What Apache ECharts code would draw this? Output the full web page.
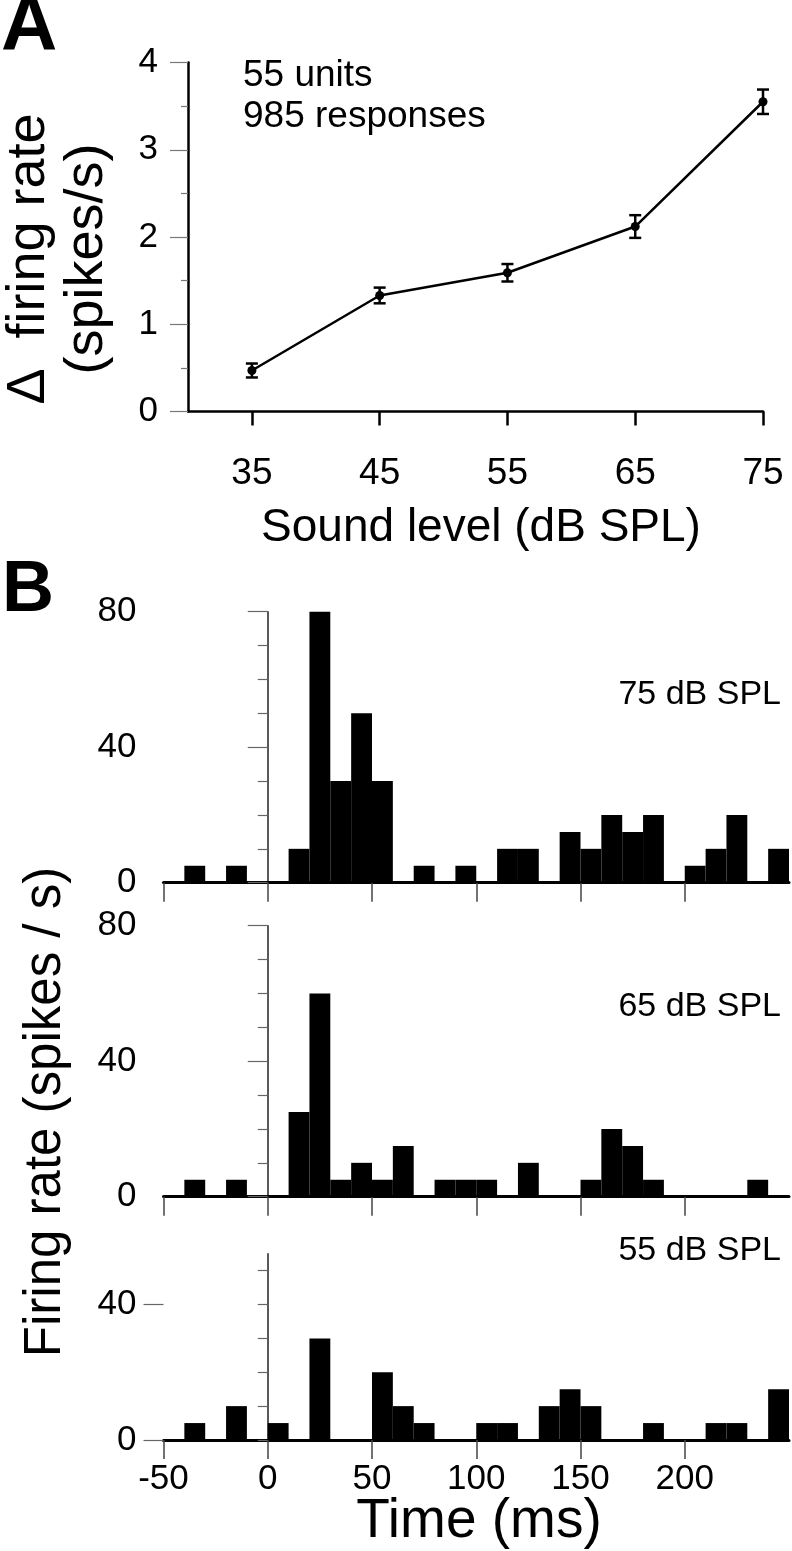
<!DOCTYPE html>
<html>
<head>
<meta charset="utf-8">
<script src="https://cdn.jsdelivr.net/npm/echarts@6/dist/echarts.min.js"></script>
<style>
html,body{margin:0;padding:0;background:#fff;}
#c{width:792px;height:1551px;}
</style>
</head>
<body>
<div id="c"></div>
<script>
// ---------- Panel A data ----------
const levels = [35, 45, 55, 65, 75];
const meanRate = [0.47, 1.33, 1.59, 2.12, 3.55];
const semRate = [0.08, 0.09, 0.10, 0.13, 0.14];
const levelTicks = [35, 45, 55, 65, 75];

// ---------- Panel B data (10 ms bins) ----------
const binWidth = 10;
const binStarts = [-50,-40,-30,-20,-10,0,10,20,30,40,50,60,70,80,90,100,110,120,130,140,150,160,170,180,190,200,210,220,230,240];
const rate75 = [0,5,0,5,0,0,10,80,30,50,30,0,5,0,5,0,10,10,0,15,10,20,15,20,0,5,10,20,0,10];
const rate65 = [0,5,0,5,0,0,25,60,5,10,5,15,0,5,5,5,0,10,0,0,5,20,15,5,0,0,0,0,5,0];
const rate55 = [0,5,0,10,0,5,0,30,0,0,20,10,5,0,0,5,5,0,10,15,10,0,0,5,0,0,5,5,0,15];
const timeTicks = [-50, 0, 50, 100, 150, 200];
const panelLabels = ['75 dB SPL', '65 dB SPL', '55 dB SPL'];

const FF = '"Liberation Sans", Arial, Helvetica, sans-serif';
const chart = echarts.init(document.getElementById('c'), null, {renderer: 'canvas'});

const errData = levels.map((l, i) => [l, meanRate[i] - semRate[i], meanRate[i] + semRate[i]]);
const lineData = levels.map((l, i) => [l, meanRate[i]]);
const histData = arr => binStarts.map((s, i) => [s, arr[i]]);

function histRender(params, api) {
  const s = api.value(0), v = api.value(1);
  if (!v) return null;
  const p0 = api.coord([s, v]);
  const p1 = api.coord([s + binWidth, 0]);
  return {type: 'rect', shape: {x: p0[0], y: p0[1], width: p1[0] - p0[0], height: p1[1] - p0[1]}, style: {fill: '#000'}};
}
function errRender(params, api) {
  const x = api.value(0);
  const lo = api.coord([x, api.value(1)]);
  const hi = api.coord([x, api.value(2)]);
  const w = 6;
  const st = {stroke: '#000', lineWidth: 2.5};
  return {type: 'group', children: [
    {type: 'line', shape: {x1: lo[0], y1: lo[1], x2: hi[0], y2: hi[1]}, style: st},
    {type: 'line', shape: {x1: lo[0] - w, y1: lo[1], x2: lo[0] + w, y2: lo[1]}, style: st},
    {type: 'line', shape: {x1: hi[0] - w, y1: hi[1], x2: hi[0] + w, y2: hi[1]}, style: st}
  ]};
}

const pxPerUnitB = 271 / 80;
const gridB = [
  {left: 163.5, top: 611.7, width: 625.5, height: 271},
  {left: 163.5, top: 925.7, width: 625.5, height: 271},
  {left: 163.5, top: 1440 - 55 * pxPerUnitB, width: 625.5, height: 55 * pxPerUnitB}
];

function xAxisB(i, showLabel) {
  return {
    gridIndex: i, type: 'value', min: -50, max: 250, interval: 50,
    axisLine: {show: true, onZero: false, lineStyle: {color: '#000', width: 3}},
    axisTick: {show: true, length: 19, customValues: timeTicks, lineStyle: {color: '#444', width: 1.5}},
    axisLabel: {show: showLabel, customValues: timeTicks, fontSize: 35, fontFamily: FF, color: '#000', margin: 22},
    splitLine: {show: false}
  };
}
function yAxisB80(i) {
  return {
    gridIndex: i, type: 'value', position: 'left', min: 0, max: 80, interval: 40,
    axisLine: {show: true, lineStyle: {color: '#222', width: 1.5}},
    axisTick: {show: true, length: 20, lineStyle: {color: '#666', width: 1.2}},
    minorTick: {show: true, splitNumber: 4, length: 10, lineStyle: {color: '#666', width: 1.2}},
    axisLabel: {fontSize: 35, fontFamily: FF, color: '#000', margin: 27},
    splitLine: {show: false}, minorSplitLine: {show: false}
  };
}

const option = {
  animation: false,
  backgroundColor: '#fff',
  grid: [
    {left: 188, top: 62.5, width: 575, height: 349},
    gridB[0], gridB[1], gridB[2]
  ],
  xAxis: [
    {
      gridIndex: 0, type: 'value', min: 30, max: 75,
      axisLine: {show: true, onZero: false, lineStyle: {color: '#000', width: 2.5}},
      axisTick: {show: true, length: 14, customValues: levelTicks, lineStyle: {color: '#000', width: 2.5}},
      axisLabel: {customValues: levelTicks, fontSize: 37, fontFamily: FF, color: '#000', margin: 44},
      splitLine: {show: false}
    },
    xAxisB(1, false), xAxisB(2, false), xAxisB(3, true)
  ],
  yAxis: [
    {
      gridIndex: 0, type: 'value', position: 'left', min: 0, max: 4, interval: 1,
      axisLine: {show: true, lineStyle: {color: '#000', width: 2.5}},
      axisTick: {show: true, length: 18, lineStyle: {color: '#777', width: 1.2}},
      minorTick: {show: true, splitNumber: 2, length: 7, lineStyle: {color: '#777', width: 1.2}},
      axisLabel: {fontSize: 35, fontFamily: FF, color: '#000', margin: 30},
      splitLine: {show: false}, minorSplitLine: {show: false}
    },
    yAxisB80(1), yAxisB80(2),
    {
      gridIndex: 3, type: 'value', position: 'left', min: 0, max: 55,
      axisLine: {show: true, lineStyle: {color: '#222', width: 1.5}},
      axisTick: {show: true, length: 10, customValues: [0, 10, 20, 30, 40, 50], lineStyle: {color: '#666', width: 1.2}},
      axisLabel: {customValues: [0, 40], fontSize: 35, fontFamily: FF, color: '#000', margin: 27},
      splitLine: {show: false}
    },
    {
      gridIndex: 3, type: 'value', position: 'left', offset: 0, min: 0, max: 55,
      axisLine: {show: false},
      axisTick: {show: true, length: 20, customValues: [0, 40], lineStyle: {color: '#666', width: 1.2}},
      axisLabel: {show: false},
      splitLine: {show: false}
    }
  ],
  series: [
    {
      type: 'line', xAxisIndex: 0, yAxisIndex: 0, data: lineData,
      symbol: 'circle', symbolSize: 9, itemStyle: {color: '#000'},
      lineStyle: {color: '#000', width: 2.5}, z: 3
    },
    {type: 'custom', xAxisIndex: 0, yAxisIndex: 0, data: errData, renderItem: errRender, encode: {x: 0, y: [1, 2]}, z: 4},
    {type: 'custom', xAxisIndex: 1, yAxisIndex: 1, data: histData(rate75), renderItem: histRender, encode: {x: 0, y: 1}},
    {type: 'custom', xAxisIndex: 2, yAxisIndex: 2, data: histData(rate65), renderItem: histRender, encode: {x: 0, y: 1}},
    {type: 'custom', xAxisIndex: 3, yAxisIndex: 3, data: histData(rate55), renderItem: histRender, encode: {x: 0, y: 1}}
  ],
  graphic: [
    {type: 'text', x: 1, y: 28, style: {text: 'A', fontSize: 78, fontWeight: 'bold', fontFamily: FF, fill: '#000', align: 'left', verticalAlign: 'middle'}},
    {type: 'text', x: 2, y: 591, style: {text: 'B', fontSize: 72, fontWeight: 'bold', fontFamily: FF, fill: '#000', align: 'left', verticalAlign: 'middle'}},
    {type: 'text', x: 243, y: 76, style: {text: '55 units', fontSize: 37, fontFamily: FF, fill: '#000', align: 'left', verticalAlign: 'middle'}},
    {type: 'text', x: 243, y: 117, style: {text: '985 responses', fontSize: 37, fontFamily: FF, fill: '#000', align: 'left', verticalAlign: 'middle'}},
    {type: 'text', x: 481, y: 528, style: {text: 'Sound level (dB SPL)', fontSize: 46, fontFamily: FF, fill: '#000', align: 'center', verticalAlign: 'middle'}},
    {type: 'text', x: 58, y: 259, rotation: Math.PI / 2, style: {text: 'Δ  firing rate\n(spikes/s)', fontSize: 54, lineHeight: 58, fontFamily: FF, fill: '#000', align: 'center', verticalAlign: 'middle'}},
    {type: 'text', x: 781, y: 695, style: {text: panelLabels[0], fontSize: 34, fontFamily: FF, fill: '#000', align: 'right', verticalAlign: 'middle'}},
    {type: 'text', x: 781, y: 1007, style: {text: panelLabels[1], fontSize: 34, fontFamily: FF, fill: '#000', align: 'right', verticalAlign: 'middle'}},
    {type: 'text', x: 781, y: 1251, style: {text: panelLabels[2], fontSize: 34, fontFamily: FF, fill: '#000', align: 'right', verticalAlign: 'middle'}},
    {type: 'text', x: 479, y: 1522, style: {text: 'Time (ms)', fontSize: 55, fontFamily: FF, fill: '#000', align: 'center', verticalAlign: 'middle'}},
    {type: 'text', x: 46, y: 1112, rotation: Math.PI / 2, style: {text: 'Firing rate (spikes / s)', fontSize: 51, fontFamily: FF, fill: '#000', align: 'center', verticalAlign: 'middle'}}
  ]
};
chart.setOption(option);
</script>
</body>
</html>
